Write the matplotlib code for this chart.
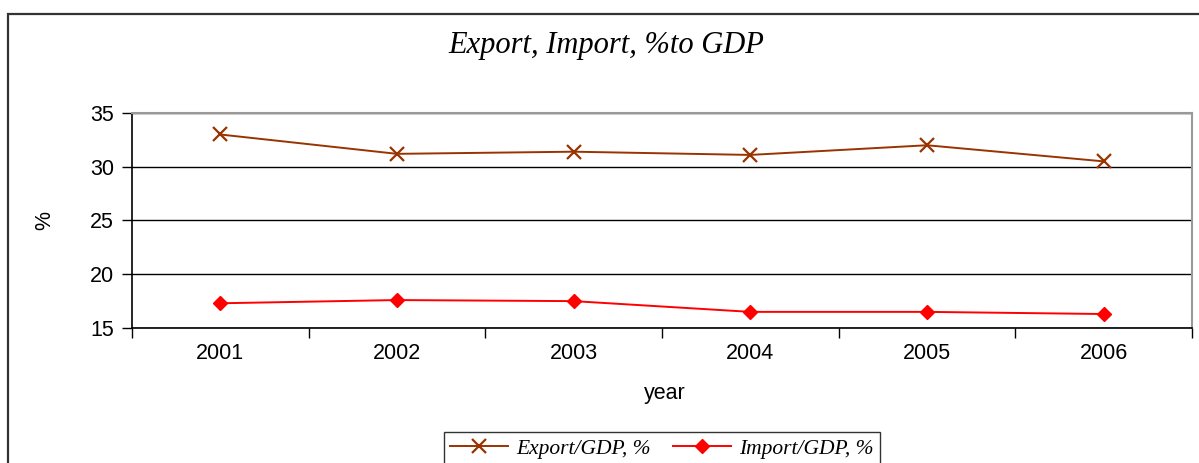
import matplotlib
matplotlib.use("Agg")
import matplotlib.pyplot as plt
from matplotlib.patches import Rectangle
from matplotlib.ticker import FixedLocator, NullFormatter

years = ["2001", "2002", "2003", "2004", "2005", "2006"]
export_gdp = [33.0, 31.2, 31.4, 31.1, 32.0, 30.5]
import_gdp = [17.3, 17.6, 17.5, 16.5, 16.5, 16.3]
series_labels = ["Export/GDP, %", "Import/GDP, %"]
title = "Export, Import, %to GDP"

W, H = 1199, 463
fig = plt.figure(figsize=(W / 100, H / 100), dpi=100)

# outer chart frame (bottom and right cut off by the image edge)
fig.patches.append(Rectangle((8 / W, -0.2), 1.2, 1 - 14 / H + 0.2,
                             transform=fig.transFigure, fill=False,
                             edgecolor="#333333", linewidth=1.6))

ax = fig.add_axes([132 / W, 1 - 328 / H, (1192 - 132) / W, (328 - 113) / H])
x = list(range(len(years)))
ax.plot(x, export_gdp, color="#993300", marker="x", markersize=10,
        markeredgewidth=1.6, linewidth=1.4, label=series_labels[0])
ax.plot(x, import_gdp, color="#FF0000", marker="D", markersize=7,
        linewidth=1.4, label=series_labels[1])

ax.set_xlim(-0.5, len(years) - 0.5)
ax.set_ylim(15, 35)
ax.set_yticks([15, 20, 25, 30, 35])
ax.yaxis.grid(True, color="black", linewidth=1.0)
ax.set_axisbelow(True)

ax.xaxis.set_major_locator(FixedLocator([i - 0.5 for i in range(len(years) + 1)]))
ax.xaxis.set_major_formatter(NullFormatter())
ax.xaxis.set_minor_locator(FixedLocator(x))
ax.set_xticklabels(years, minor=True)
ax.tick_params(axis="x", which="major", length=7, width=1, direction="out")
ax.tick_params(axis="x", which="minor", length=0, pad=11, labelsize=15.5)
ax.tick_params(axis="y", length=7, width=1, pad=6, labelsize=15.5)
for lab in ax.get_xticklabels(minor=True) + ax.get_yticklabels():
    lab.set_fontfamily("Liberation Sans")

for s in ["top", "right"]:
    ax.spines[s].set_color("#999999")
    ax.spines[s].set_linewidth(1.5)
for s in ["left", "bottom"]:
    ax.spines[s].set_color("black")
    ax.spines[s].set_linewidth(1.2)

fig.text(606 / W, 1 - 45 / H, title, ha="center", va="center",
         fontfamily="Liberation Serif", fontstyle="italic", fontsize=22)
fig.text(665 / W, 1 - 393 / H, "year", ha="center", va="center",
         fontfamily="Liberation Sans", fontsize=15.5)
fig.text(45 / W, 1 - 220 / H, "%", ha="center", va="center", rotation=90,
         fontfamily="Liberation Sans", fontsize=15.5)

leg = fig.legend(loc="upper center", bbox_to_anchor=(662 / W, 1 - 432 / H),
                 ncol=2, frameon=True, fancybox=False, edgecolor="black",
                 handlelength=2.7, columnspacing=1.0, handletextpad=0.4,
                 borderpad=0.3, borderaxespad=0,
                 prop={"family": "Liberation Serif", "style": "italic", "size": 15.5})
leg.get_frame().set_linewidth(1.0)

fig.savefig("out.png", dpi=100)
